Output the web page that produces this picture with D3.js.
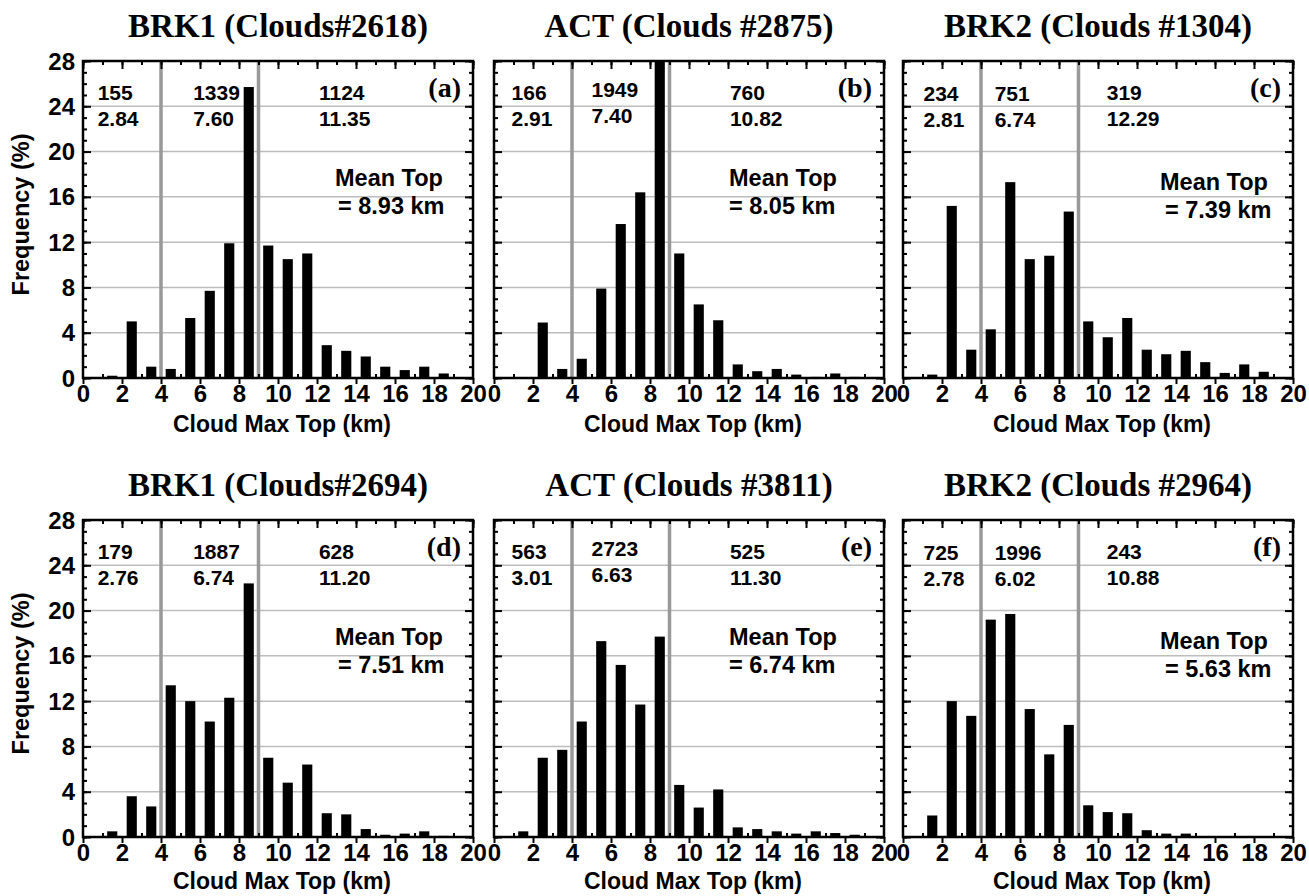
<!DOCTYPE html>
<html>
<head>
<meta charset="utf-8">
<script src="https://cdn.jsdelivr.net/npm/d3@7"></script>
<style>
  body { margin: 0; background: #fff; }
  svg text { font-family: "Liberation Sans", Arial, sans-serif; font-weight: bold; }
  .title, .letter { font-family: "Liberation Serif", "Times New Roman", serif; }
</style>
</head>
<body>
<script>
// bin centres (km) shared by every panel
const binCenters = [1.5, 2.5, 3.5, 4.5, 5.5, 6.5, 7.5, 8.5, 9.5, 10.5, 11.5, 12.5, 13.5, 14.5, 15.5, 16.5, 17.5, 18.5]

// frequency (%)
const freqA = [0.2, 5.0, 1.0, 0.8, 5.3, 7.7, 11.9, 25.7, 11.7, 10.5, 11.0, 2.9, 2.4, 1.9, 1.0, 0.7, 1.0, 0.4]
const freqB = [0, 4.9, 0.8, 1.7, 7.9, 13.6, 16.4, 29.0, 11.0, 6.5, 5.1, 1.2, 0.6, 0.8, 0.3, 0.1, 0.4, 0.1]
const freqC = [0.3, 15.2, 2.5, 4.3, 17.3, 10.5, 10.8, 14.7, 5.0, 3.6, 5.3, 2.5, 2.1, 2.4, 1.4, 0.45, 1.2, 0.55]
const freqD = [0.5, 3.6, 2.7, 13.4, 12.0, 10.2, 12.3, 22.4, 7.0, 4.8, 6.4, 2.1, 2.0, 0.7, 0.2, 0.3, 0.5, 0.1]
const freqE = [0.5, 7.0, 7.7, 10.2, 17.3, 15.2, 11.7, 17.7, 4.6, 2.6, 4.2, 0.85, 0.7, 0.5, 0.3, 0.5, 0.35, 0.2]
const freqF = [1.9, 12.0, 10.7, 19.2, 19.7, 11.3, 7.3, 9.9, 2.8, 2.2, 2.1, 0.6, 0.3, 0.3, 0.05, 0.05, 0.05, 0.05]

const titles = ["BRK1 (Clouds#2618)", "ACT (Clouds #2875)", "BRK2 (Clouds #1304)",
                "BRK1 (Clouds#2694)", "ACT (Clouds #3811)", "BRK2 (Clouds #2964)"]
const letters = ["(a)", "(b)", "(c)", "(d)", "(e)", "(f)"]
// cloud counts for the three height regimes (<4, 4-9, >9 km)
const counts = [["155", "1339", "1124"], ["166", "1949", "760"], ["234", "751", "319"],
                ["179", "1887", "628"], ["563", "2723", "525"], ["725", "1996", "243"]]
// mean top (km) of each regime
const regimeMeans = [["2.84", "7.60", "11.35"], ["2.91", "7.40", "10.82"], ["2.81", "6.74", "12.29"],
                     ["2.76", "6.74", "11.20"], ["3.01", "6.63", "11.30"], ["2.78", "6.02", "10.88"]]
const meanTops = ["8.93", "8.05", "7.39", "7.51", "6.74", "5.63"]
const dividers = [4, 9]
const xTicks = [0, 2, 4, 6, 8, 10, 12, 14, 16, 18, 20]
const yTicks = [0, 4, 8, 12, 16, 20, 24, 28]

const freqs = [freqA, freqB, freqC, freqD, freqE, freqF]

const W = 1309, H = 896
const svg = d3.select("body").append("svg").attr("width", W).attr("height", H)

const panelW = 390, panelH = 317
const lefts = [83, 494, 903]
const tops = [61, 520]
// where the count/mean columns sit, in km, per column of panels
const numX = [[0.75, 5.65, 12.1], [0.9, 5.0, 12.1], [1.05, 4.7, 10.45]]
const numDy = [[0, 0, 0], [0, -3, 0], [1, 1, 0]]
const meanX = [[252, 255], [235, 235], [257, 262]]

const x = d3.scaleLinear().domain([0, 20]).range([0, panelW])
const y = d3.scaleLinear().domain([0, 28]).range([panelH, 0]).clamp(true)
const barW = x(0.52) - x(0)

freqs.forEach((freq, i) => {
    let col = i % 3, row = Math.floor(i / 3)
    let g = svg.append("g").attr("transform", `translate(${lefts[col]},${tops[row]})`)

    // horizontal grid
    g.selectAll(".grid")
        .data(yTicks.filter(t => t > 0 && t < 28))
        .enter().append("line")
        .attr("x1", 0).attr("x2", panelW)
        .attr("y1", d => y(d)).attr("y2", d => y(d))
        .attr("stroke", "#bdbdbd").attr("stroke-width", 1.5)

    // bars
    g.selectAll(".bar")
        .data(binCenters.map((c, k) => ({ c: c, v: freq[k] })))
        .enter().append("rect")
        .attr("x", d => x(d.c) - barW / 2)
        .attr("y", d => y(d.v))
        .attr("width", barW)
        .attr("height", d => Math.max(0.6, y(0) - y(d.v)))
        .attr("fill", "#000")

    // regime dividers
    g.selectAll(".div")
        .data(dividers)
        .enter().append("line")
        .attr("x1", d => x(d)).attr("x2", d => x(d))
        .attr("y1", 0).attr("y2", panelH)
        .attr("stroke", "#999").attr("stroke-width", 3.5)

    // axes (ticks point inward, bottom majors point out)
    let minorY = d3.range(0, 29, 1), minorX = d3.range(0, 21, 1)
    g.append("g").call(d3.axisRight(y).tickValues(minorY).tickSize(4).tickFormat(""))
    g.append("g").call(d3.axisRight(y).tickValues(yTicks).tickSize(8).tickFormat(""))
    g.append("g").attr("transform", `translate(${panelW},0)`)
        .call(d3.axisLeft(y).tickValues(minorY).tickSize(4).tickFormat(""))
    g.append("g").attr("transform", `translate(${panelW},0)`)
        .call(d3.axisLeft(y).tickValues(yTicks).tickSize(8).tickFormat(""))
    g.append("g").call(d3.axisBottom(x).tickValues(minorX).tickSize(4).tickFormat(""))
    g.append("g").call(d3.axisBottom(x).tickValues(xTicks).tickSize(8).tickFormat(""))
    g.append("g").attr("transform", `translate(0,${panelH})`)
        .call(d3.axisTop(x).tickValues(minorX.filter(t => t % 2)).tickSize(4).tickFormat(""))
    let xAx = g.append("g").attr("transform", `translate(0,${panelH})`)
        .call(d3.axisBottom(x).tickValues(xTicks).tickSize(6).tickPadding(1))
    xAx.selectAll("text").attr("font-size", 24).attr("fill", "#000").attr("dy", "0.72em")
    g.selectAll(".domain").remove()
    g.selectAll(".tick line").attr("stroke", "#000").attr("stroke-width", 2)

    if (col === 0) {
        g.selectAll(".ylab")
            .data(yTicks)
            .enter().append("text")
            .attr("x", -8).attr("y", d => y(d))
            .attr("dy", "0.36em")
            .attr("text-anchor", "end")
            .attr("font-size", 24)
            .text(d => d)
        g.append("text")
            .attr("transform", `translate(-54,${panelH / 2 - 5}) rotate(-90)`)
            .attr("text-anchor", "middle")
            .attr("font-size", 23.5)
            .text("Frequency (%)")
    }

    // frame
    g.append("rect").attr("width", panelW).attr("height", panelH)
        .attr("fill", "none").attr("stroke", "#000").attr("stroke-width", 2.5)

    g.append("text")
        .attr("x", panelW / 2 + 4).attr("y", panelH + (row ? 52 : 54))
        .attr("text-anchor", "middle").attr("font-size", 23)
        .text("Cloud Max Top (km)")

    g.append("text").attr("class", "title")
        .attr("x", panelW / 2).attr("y", -24)
        .attr("text-anchor", "middle").attr("font-size", 33)
        .text(titles[i])

    g.append("text").attr("class", "letter")
        .attr("x", panelW - 12).attr("y", 36)
        .attr("text-anchor", "end").attr("font-size", 28)
        .text(letters[i])

    counts[i].forEach((c, k) => {
        g.append("text").attr("x", x(numX[col][k])).attr("y", 39 + numDy[col][k])
            .attr("font-size", 21).text(c)
        g.append("text").attr("x", x(numX[col][k])).attr("y", 65 + numDy[col][k])
            .attr("font-size", 21).text(regimeMeans[i][k])
    })

    g.append("text").attr("x", meanX[col][0]).attr("y", col === 2 ? 129 : 125)
        .attr("font-size", 23.5).text("Mean Top")
    g.append("text").attr("x", meanX[col][1]).attr("y", col === 2 ? 157 : 153)
        .attr("font-size", 23.5).text(`= ${meanTops[i]} km`)
})
</script>
</body>
</html>
